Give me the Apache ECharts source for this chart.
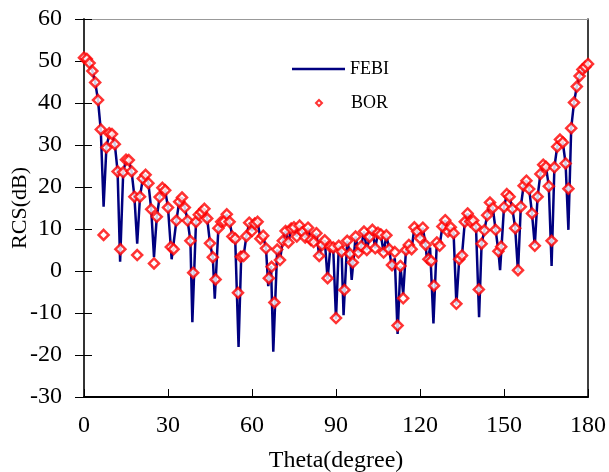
<!DOCTYPE html>
<html>
<head>
<meta charset="utf-8">
<script src="https://cdn.jsdelivr.net/npm/echarts@6/dist/echarts.min.js"></script>
<style>
  html, body { margin: 0; padding: 0; background: #fff; }
  #chart { width: 609px; height: 472px; }
</style>
</head>
<body>
<div id="chart"></div>
<script>
// BOR markers, one per degree from 0 to 180
var bor = [
  50.8, 50.5, 49.5, 47.6, 44.9, 40.7, 33.7, 8.6, 29.4, 32.8,
  32.6, 30.2, 23.7, 5.2, 23.5, 26.5, 26.4, 23.7, 17.7, 3.8,
  17.7, 22.0, 22.9, 20.9, 14.7, 1.8, 12.9, 17.6, 19.8, 19.2,
  15.1, 5.7, 5.2, 12.0, 16.5, 17.5, 15.1, 12.0, 7.2, -0.4,
  11.7, 13.4, 14.0, 14.8, 12.5, 6.6, 3.3, -2.0, 10.2, 11.7,
  11.8, 13.5, 11.7, 8.2, 7.7, -5.2, 3.4, 3.6, 8.3, 11.5,
  9.5, 11.3, 11.7, 7.7, 8.4, 5.4, -1.7, 1.0, -7.5, 5.1,
  2.6, 7.2, 9.5, 6.8, 10.1, 10.4, 8.2, 10.8, 9.3, 8.0,
  10.3, 7.4, 6.9, 9.0, 3.6, 6.2, 7.3, -1.7, 5.8, 5.6,
  -11.2, 6.0, 4.6, -4.5, 7.2, 4.1, 2.0, 8.2, 4.4, 5.9,
  9.4, 5.0, 8.1, 9.8, 5.4, 9.1, 8.7, 4.4, 8.5, 5.2,
  1.4, 4.5, -13.0, 1.2, -6.5, 5.0, 6.2, 5.2, 10.4, 9.4,
  7.8, 10.3, 6.2, 2.8, 2.4, -3.5, 6.8, 6.0, 10.6, 12.1,
  9.4, 10.4, 9.0, -7.8, 2.8, 3.7, 11.7, 13.7, 11.8, 12.0,
  10.5, -4.4, 6.5, 9.7, 13.3, 16.3, 15.0, 9.8, 4.7, 5.8,
  15.2, 18.3, 17.7, 14.8, 10.2, 0.2, 15.3, 20.3, 21.5, 19.5,
  13.7, 6.0, 17.7, 23.1, 25.3, 24.8, 20.2, 7.2, 24.7, 29.6,
  31.3, 30.6, 25.6, 19.6, 34.0, 40.1, 43.9, 46.4, 48.0, 48.6,
  49.3
];

// FEBI curve (theta, dB)
var febiTheta = [
  0, 1, 2, 3, 4, 5, 6, 7, 8, 9, 10, 11, 12, 12.9, 14, 15, 16, 17, 18, 19,
  20, 21, 22, 23, 24, 25, 26, 27, 28, 29, 30, 31.3, 33, 34, 35, 36, 37, 38, 38.7, 40,
  41, 42, 43, 44, 45, 46, 46.7, 48, 49, 50, 51, 52, 53, 54, 55.2, 56.2, 57, 58, 59, 60,
  61, 62, 63, 64, 65, 65.8, 66.8, 67.6, 69, 70, 71, 72, 73, 74, 75, 76, 77, 78, 79, 80,
  81, 82, 83, 84, 85, 86, 87, 88, 89, 90, 91, 92, 92.7, 94, 95, 95.6, 97, 98, 99, 100,
  101, 102, 103, 104, 105, 106, 107, 108, 109, 110, 111, 112, 113, 114, 115, 116, 117, 118, 119, 120,
  121, 122, 122.6, 123.6, 124.8, 126, 127, 128, 129, 130, 131, 132, 133, 134, 135, 136, 137, 138, 139, 140,
  141.1, 142, 143, 144, 145, 146, 147, 148, 148.6, 150, 151, 152, 153, 154, 155, 156, 157, 158, 159, 160,
  161, 162, 163, 164, 165, 166, 167, 168, 169, 170, 171, 172, 173, 174, 175, 176, 177, 178, 179, 180
];
var febi = [
  50.8, 50.4, 49.5, 47.6, 44.9, 40.7, 33.5, 15.3, 29.4, 32.6, 32.6, 30.2, 23.7, 2.2, 23.5, 26.4, 26.3, 23.7, 17.7, 6.5,
  17.7, 22.0, 22.9, 20.9, 14.7, 3.3, 12.9, 17.6, 19.8, 19.2, 15.1, 2.8, 12.0, 16.5, 17.5, 15.1, 12.0, 7.2, -12.2, 11.7,
  13.4, 14.0, 14.8, 12.5, 6.6, 3.3, -6.6, 10.2, 11.7, 11.8, 13.5, 11.7, 8.2, 7.7, -18.1, 4.7, 3.6, 8.3, 11.5, 9.5,
  11.3, 11.7, 7.7, 8.4, 5.4, -3.6, 1.2, -19.2, 5.1, 2.6, 7.2, 9.5, 6.8, 10.1, 10.4, 8.2, 10.8, 9.3, 8.0, 10.3,
  7.4, 6.9, 9.0, 3.6, 6.2, 7.3, -2.0, 5.8, 5.6, -11.5, 6.0, 4.6, -10.5, 7.2, 4.1, -2.1, 8.2, 4.4, 5.9, 9.4,
  5.0, 8.1, 9.8, 5.4, 9.1, 8.7, 4.4, 8.5, 5.2, 0.5, 3.0, -15.0, 1.2, -5.5, 5.0, 6.2, 5.2, 10.4, 9.4, 7.8,
  10.3, 6.2, 1.8, 5.6, -12.5, 6.8, 6.0, 10.6, 12.1, 9.4, 10.4, 9.0, -8.0, 2.8, 3.7, 11.7, 13.7, 11.8, 12.0, 10.5,
  -11.0, 6.5, 9.7, 13.3, 16.3, 15.0, 9.8, 4.7, 0.2, 15.2, 18.3, 17.7, 14.8, 10.2, -0.2, 15.3, 20.3, 21.5, 19.5, 13.7,
  6.0, 17.7, 23.1, 25.3, 24.8, 20.2, 1.2, 24.7, 29.6, 31.3, 30.6, 25.6, 9.8, 34.0, 40.1, 43.9, 46.4, 48.0, 48.6, 49.3
];

var xTicks = { min: 0, max: 180, interval: 30 };
var yTicks = { min: -30, max: 60, interval: 10 };

var serif = '"Liberation Serif", "Times New Roman", serif';

var febiData = febiTheta.map(function (t, i) { return [t, febi[i]]; });
var borData = bor.map(function (v, i) { return [i, v]; });

var chart = echarts.init(document.getElementById('chart'), null, { renderer: 'canvas' });

var grid = { left: 84, right: 21, top: 19, bottom: 75, outerBoundsMode: 'none', containLabel: false };

var option = {
  animation: false,
  backgroundColor: '#fff',
  grid: [
    Object.assign({}, grid),
    Object.assign({}, grid)
  ],
  legend: [
    {
      data: [{ name: 'FEBI', icon: 'rect' }],
      orient: 'vertical',
      left: 292, top: 60, padding: 0,
      itemWidth: 53, itemHeight: 2.5, itemGap: 5,
      textStyle: { fontFamily: serif, fontSize: 18, color: '#000' },
      selectedMode: false
    },
    {
      // tiny marker centred under the FEBI line sample
      data: [{ name: 'BOR', icon: 'path://M0,-1L1,0L0,1L-1,0Z' }],
      orient: 'vertical',
      left: 315, top: 94, padding: 0,
      itemWidth: 6, itemHeight: 6, itemGap: 5,
      textStyle: { fontFamily: serif, fontSize: 18, color: '#000', padding: [0, 0, 0, 24] },
      selectedMode: false
    }
  ],
  xAxis: [
    {
      type: 'value', gridIndex: 0,
      min: xTicks.min, max: xTicks.max, interval: xTicks.interval,
      name: 'Theta(degree)', nameLocation: 'middle', nameGap: 52,
      nameTextStyle: { fontFamily: serif, fontSize: 24, color: '#000' },
      axisLine: { onZero: false, lineStyle: { color: '#000', width: 2 } },
      axisTick: { inside: true, length: 8, lineStyle: { color: '#000', width: 1 } },
      axisLabel: { margin: 17, fontFamily: serif, fontSize: 24, color: '#000' },
      splitLine: { show: false }
    },
    {
      type: 'value', gridIndex: 1, position: 'top',
      min: xTicks.min, max: xTicks.max, interval: xTicks.interval,
      axisLine: { onZero: false, lineStyle: { color: '#999', width: 1 } },
      axisTick: { show: false }, axisLabel: { show: false },
      splitLine: { show: false }
    }
  ],
  yAxis: [
    {
      type: 'value', gridIndex: 0,
      min: yTicks.min, max: yTicks.max, interval: yTicks.interval,
      name: 'RCS(dB)', nameLocation: 'middle', nameGap: 53, nameRotate: 90,
      nameMoveOverlap: false,
      nameTextStyle: { fontFamily: serif, fontSize: 22, color: '#000' },
      axisLine: { onZero: false, lineStyle: { color: '#333', width: 2 } },
      axisTick: { length: 9, lineStyle: { color: '#000', width: 1 } },
      axisLabel: { margin: 22, fontFamily: serif, fontSize: 24, color: '#000' },
      splitLine: { show: false }
    },
    {
      type: 'value', gridIndex: 1, position: 'left',
      min: yTicks.min, max: yTicks.max, interval: yTicks.interval,
      axisLine: { show: false, onZero: false },
      axisTick: { inside: true, length: 8, lineStyle: { color: '#000', width: 1 } },
      axisLabel: { show: false },
      splitLine: { show: false }
    },
    {
      type: 'value', gridIndex: 1, position: 'right',
      min: yTicks.min, max: yTicks.max, interval: yTicks.interval,
      axisLine: { onZero: false, lineStyle: { color: '#000', width: 1.5 } },
      axisTick: { show: false }, axisLabel: { show: false },
      splitLine: { show: false }
    }
  ],
  series: [
    {
      name: 'FEBI',
      type: 'line',
      xAxisIndex: 0, yAxisIndex: 0,
      data: febiData,
      symbol: 'none',
      lineStyle: { color: '#000080', width: 2.5 },
      itemStyle: { color: '#000080' },
      z: 2
    },
    {
      name: 'BOR',
      type: 'scatter',
      xAxisIndex: 0, yAxisIndex: 0,
      data: borData,
      symbol: 'diamond',
      symbolSize: 10,
      itemStyle: { color: '#fff', borderColor: '#ff0000', borderWidth: 2.5 },
      z: 3
    }
  ]
};

chart.setOption(option);
</script>
</body>
</html>
